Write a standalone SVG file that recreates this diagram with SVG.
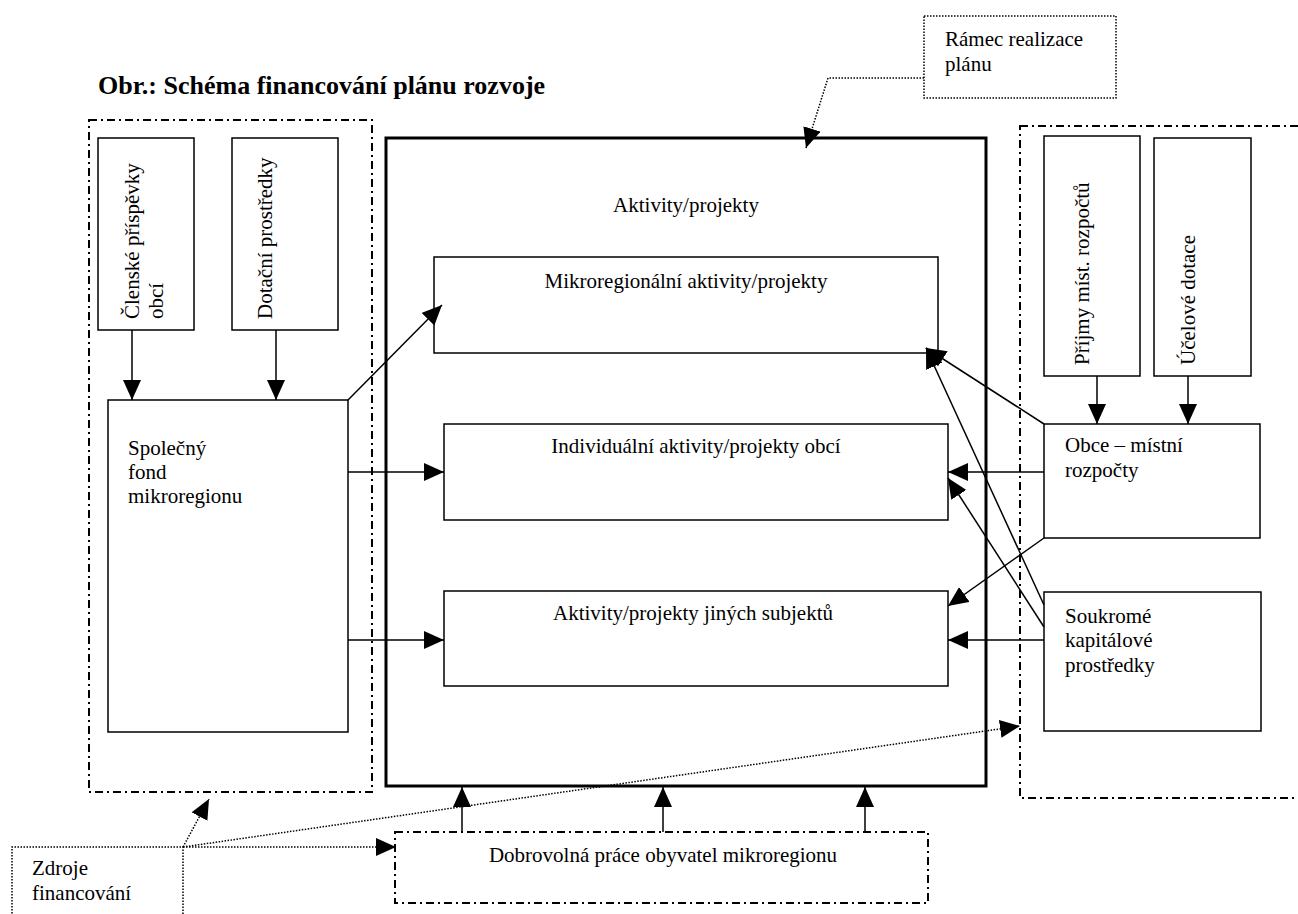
<svg xmlns="http://www.w3.org/2000/svg" width="1298" height="914" viewBox="0 0 1298 914">
<style>
text{font-family:"Liberation Serif","Times New Roman",serif;font-size:21px;fill:#000}
.title{font-weight:bold;font-size:26px}
.box{fill:none;stroke:#000;stroke-width:1.5}
.frame{fill:none;stroke:#000;stroke-width:3}
.dd{fill:none;stroke:#000;stroke-width:2;stroke-dasharray:8,4,2,4}
.dot{fill:none;stroke:#000;stroke-width:1.5;stroke-dasharray:1.5,1.5}
.c{fill:none;stroke:#000;stroke-width:1.5}
.mid{text-anchor:middle}
</style>
<defs>
<marker id="ah" markerUnits="userSpaceOnUse" markerWidth="22" markerHeight="20" refX="20" refY="9" orient="auto">
<path d="M0,0 L20,9 L0,18 z" fill="#000"/>
</marker>
</defs>
<rect width="1298" height="914" fill="#fff"/>
<text class="title" x="98" y="94">Obr.: Schéma financování plánu rozvoje</text>

<g id="ramec-callout">
<rect class="dot" x="924" y="16" width="192" height="82"/>
<text x="945" y="46">Rámec realizace</text>
<text x="945" y="71">plánu</text>
</g>

<g id="zdroje-callout">
<path class="dot" d="M183,920 V847 H12 V920"/>
<text x="32" y="875">Zdroje</text>
<text x="32" y="900">financování</text>
</g>

<g id="left-group"><rect class="dd" x="89" y="120" width="283" height="672"/></g>
<g id="right-group"><rect class="dd" x="1020" y="126" width="284" height="672"/></g>

<g id="main-frame">
<rect class="frame" x="386" y="138" width="600" height="648"/>
<text class="mid" x="686" y="212">Aktivity/projekty</text>
</g>

<g id="clenske">
<rect class="box" x="98" y="138" width="96" height="192"/>
<text transform="translate(139,319) rotate(-90)">Členské příspěvky</text>
<text transform="translate(163,319) rotate(-90)">obcí</text>
</g>
<g id="dotacni">
<rect class="box" x="232" y="138" width="106" height="192"/>
<text transform="translate(272,319) rotate(-90)">Dotační prostředky</text>
</g>
<g id="spolecny">
<rect class="box" x="108" y="400" width="240" height="332"/>
<text x="128" y="455">Společný</text>
<text x="128" y="479">fond</text>
<text x="128" y="503">mikroregionu</text>
</g>

<g id="mikro">
<rect class="box" x="434" y="257" width="504" height="96"/>
<text class="mid" x="686" y="288">Mikroregionální aktivity/projekty</text>
</g>
<g id="individualni">
<rect class="box" x="444" y="424" width="504" height="96"/>
<text class="mid" x="696" y="453">Individuální aktivity/projekty obcí</text>
</g>
<g id="jinych">
<rect class="box" x="444" y="591" width="504" height="95"/>
<text class="mid" x="693" y="620">Aktivity/projekty jiných subjektů</text>
</g>

<g id="prijmy">
<rect class="box" x="1044" y="136" width="96" height="240"/>
<text transform="translate(1089,365) rotate(-90)">Příjmy míst. rozpočtů</text>
</g>
<g id="ucelove">
<rect class="box" x="1154" y="138" width="97" height="238"/>
<text transform="translate(1195,365) rotate(-90)">Účelové dotace</text>
</g>
<g id="obce">
<rect class="box" x="1044" y="424" width="216" height="114"/>
<text x="1065" y="452">Obce – místní</text>
<text x="1065" y="477">rozpočty</text>
</g>
<g id="soukrome">
<rect class="box" x="1044" y="592" width="217" height="139"/>
<text x="1065" y="623">Soukromé</text>
<text x="1065" y="647">kapitálové</text>
<text x="1065" y="672">prostředky</text>
</g>

<g id="dobrovolna">
<rect class="dd" x="395" y="832" width="533" height="71"/>
<text class="mid" x="663" y="862">Dobrovolná práce obyvatel mikroregionu</text>
</g>

<g id="connectors">
<line class="c" x1="132" y1="330" x2="132" y2="400" marker-end="url(#ah)"/>
<line class="c" x1="276" y1="330" x2="276" y2="400" marker-end="url(#ah)"/>
<line class="c" x1="348" y1="400" x2="442" y2="305" marker-end="url(#ah)"/>
<line class="c" x1="348" y1="472" x2="444" y2="472" marker-end="url(#ah)"/>
<line class="c" x1="348" y1="640" x2="444" y2="640" marker-end="url(#ah)"/>
<line class="c" x1="1097" y1="376" x2="1097" y2="424" marker-end="url(#ah)"/>
<line class="c" x1="1188" y1="376" x2="1188" y2="424" marker-end="url(#ah)"/>
<line class="c" x1="1044" y1="424" x2="926" y2="348" marker-end="url(#ah)"/>
<line class="c" x1="1044" y1="605" x2="926" y2="348" marker-end="url(#ah)"/>
<line class="c" x1="1044" y1="472" x2="948" y2="472" marker-end="url(#ah)"/>
<line class="c" x1="1044" y1="627" x2="948" y2="478" marker-end="url(#ah)"/>
<line class="c" x1="1044" y1="538" x2="948" y2="606" marker-end="url(#ah)"/>
<line class="c" x1="1044" y1="640" x2="948" y2="640" marker-end="url(#ah)"/>
<line class="c" x1="462" y1="832" x2="462" y2="787" marker-end="url(#ah)"/>
<line class="c" x1="663" y1="832" x2="663" y2="787" marker-end="url(#ah)"/>
<line class="c" x1="865" y1="832" x2="865" y2="787" marker-end="url(#ah)"/>
<path class="dot" d="M924,78 H828 L806,148" marker-end="url(#ah)"/>
<line class="dot" x1="183" y1="847" x2="209" y2="799" marker-end="url(#ah)"/>
<line class="dot" x1="183" y1="847" x2="396" y2="847" marker-end="url(#ah)"/>
<line class="dot" x1="183" y1="847" x2="1020" y2="726" marker-end="url(#ah)"/>
</g>
</svg>
